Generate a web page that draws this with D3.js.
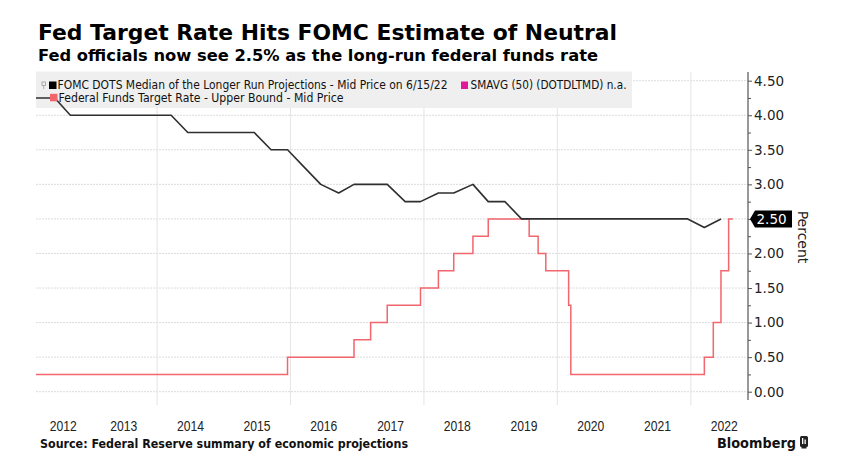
<!DOCTYPE html>
<html>
<head>
<meta charset="utf-8">
<script src="https://cdn.jsdelivr.net/npm/d3@7/dist/d3.min.js"></script>
<style>
  html, body { margin: 0; padding: 0; background: #fff; }
  svg { display: block; }
</style>
</head>
<body>
<svg id="chart" width="841" height="467"></svg>
<script>
// ---------------- DATA ----------------
const dotsDates = ["2012-01-25","2012-04-25","2012-06-20","2012-09-13","2012-12-12",
  "2013-03-20","2013-06-19","2013-09-18","2013-12-18",
  "2014-03-19","2014-06-18","2014-09-17","2014-12-17",
  "2015-03-18","2015-06-17","2015-09-17","2015-12-16",
  "2016-03-16","2016-06-15","2016-09-21","2016-12-14",
  "2017-03-15","2017-06-14","2017-09-20","2017-12-13",
  "2018-03-21","2018-06-13","2018-09-26","2018-12-19",
  "2019-03-20","2019-06-19","2019-09-18","2019-12-11",
  "2020-06-10","2020-09-16","2020-12-16",
  "2021-03-17","2021-06-16","2021-09-22","2021-12-15",
  "2022-03-16","2022-06-15"];
const dotsValues = [4.25,4.25,4.25,4.00,4.00,
  4.00,4.00,4.00,4.00,
  4.00,3.75,3.75,3.75,
  3.75,3.75,3.50,3.50,
  3.25,3.00,2.875,3.00,
  3.00,3.00,2.75,2.75,
  2.875,2.875,3.00,2.75,
  2.75,2.50,2.50,2.50,
  2.50,2.50,2.50,
  2.50,2.50,2.50,2.50,
  2.375,2.50];

const fedDates = ["2012-01-01","2015-12-16","2016-12-14","2017-03-15","2017-06-14","2017-12-13",
  "2018-03-21","2018-06-13","2018-09-26","2018-12-19",
  "2019-07-31","2019-09-18","2019-10-30","2020-03-03","2020-03-15",
  "2022-03-16","2022-05-04","2022-06-15","2022-07-27","2022-08-19"];
const fedValues = [0.25,0.50,0.75,1.00,1.25,1.50,
  1.75,2.00,2.25,2.50,
  2.25,2.00,1.75,1.25,0.25,
  0.50,1.00,1.75,2.50,2.50];

const yTicks = [0,0.5,1,1.5,2,2.5,3,3.5,4,4.5];
const yearLabels = [2012,2013,2014,2015,2016,2017,2018,2019,2020,2021,2022];
const gridYears = [2014,2016,2018,2020,2022];
const lastValue = 2.50;

const titleText = "Fed Target Rate Hits FOMC Estimate of Neutral";
const subtitleText = "Fed officials now see 2.5% as the long-run federal funds rate";
const legend1 = "FOMC DOTS Median of the Longer Run Projections - Mid Price on 6/15/22";
const legend2 = "SMAVG (50) (DOTDLTMD) n.a.";
const legend3 = "Federal Funds Target Rate - Upper Bound - Mid Price";
const sourceText = "Source: Federal Reserve summary of economic projections";
const unitText = "Percent";
const brandText = "Bloomberg";

// ---------------- SETUP ----------------
const parse = d3.timeParse("%Y-%m-%d");
const dots = dotsDates.map((d, i) => ({ date: parse(d), value: dotsValues[i] }));
const fed = fedDates.map((d, i) => ({ date: parse(d), value: fedValues[i] }));

const svg = d3.select("#chart");
const plotLeft = 36, plotRight = 748, plotTop = 72, plotBottom = 405;

const x = d3.scaleTime()
  .domain([new Date(2012, 2, 9), new Date(2022, 10, 10)])
  .range([plotLeft, plotRight]);
const y = d3.scaleLinear().domain([0, 4.5]).range([391.7, 80.7]);

function fit(sel, w) {
  const n = sel.node();
  const len = n.getComputedTextLength();
  if (Math.abs(len - w) > 0.5) {
    sel.attr("textLength", w).attr("lengthAdjust", "spacingAndGlyphs");
  }
  return sel;
}

const sans = "'DejaVu Sans', Verdana, sans-serif";

// ---------------- TITLES ----------------
svg.append("text").attr("x", 38).attr("y", 40)
  .attr("font-family", sans).attr("font-weight", "bold").attr("font-size", 21)
  .attr("fill", "#000").text(titleText).call(s => fit(s, 579));
svg.append("text").attr("x", 38).attr("y", 61)
  .attr("font-family", sans).attr("font-weight", "bold").attr("font-size", 15.5)
  .attr("fill", "#000").text(subtitleText).call(s => fit(s, 560));

// ---------------- GRID ----------------
const grid = svg.append("g");
grid.selectAll("line.h").data(yTicks).join("line")
  .attr("x1", plotLeft).attr("x2", plotRight)
  .attr("y1", d => y(d)).attr("y2", d => y(d))
  .attr("stroke", "#dcdcdc").attr("stroke-width", 1).attr("stroke-dasharray", "2,1");
grid.selectAll("line.v").data(gridYears).join("line")
  .attr("x1", d => x(new Date(d, 0, 1))).attr("x2", d => x(new Date(d, 0, 1)))
  .attr("y1", plotTop).attr("y2", plotBottom)
  .attr("stroke", "#e4e4e4").attr("stroke-width", 1);

// ---------------- LEGEND BACKGROUND ----------------
svg.append("rect").attr("x", 36).attr("y", 71.5).attr("width", 596).attr("height", 36.5)
  .attr("fill", "#eeeeee").attr("opacity", 0.92);

// ---------------- LINES ----------------
svg.append("clipPath").attr("id", "clip").append("rect")
  .attr("x", plotLeft).attr("y", plotTop - 10).attr("width", plotRight - plotLeft).attr("height", plotBottom - plotTop + 10);

const lines = svg.append("g").attr("clip-path", "url(#clip)");
lines.append("path").datum(fed)
  .attr("fill", "none").attr("stroke", "#f2666d").attr("stroke-width", 1.5)
  .attr("d", d3.line().x(d => x(d.date)).y(d => y(d.value)).curve(d3.curveStepAfter));
lines.append("path").datum(dots)
  .attr("fill", "none").attr("stroke", "#2f2f2f").attr("stroke-width", 1.6)
  .attr("stroke-linejoin", "round")
  .attr("d", d3.line().x(d => x(d.date)).y(d => y(d.value)));

// ---------------- LEGEND ITEMS ----------------
const lg = svg.append("g").attr("font-family", sans).attr("font-size", 11.5).attr("fill", "#111");
lg.append("rect").attr("x", 42).attr("y", 82).attr("width", 3.5).attr("height", 3.5)
  .attr("fill", "none").attr("stroke", "#999").attr("stroke-width", 0.8);
lg.append("line").attr("x1", 43.7).attr("x2", 43.7).attr("y1", 85.5).attr("y2", 89)
  .attr("stroke", "#999").attr("stroke-width", 0.8);
lg.append("rect").attr("x", 49).attr("y", 81.5).attr("width", 7.5).attr("height", 7.5).attr("fill", "#000");
lg.append("text").attr("x", 57.5).attr("y", 89.3).text(legend1).call(s => fit(s, 390));
lg.append("rect").attr("x", 461).attr("y", 81.5).attr("width", 7).attr("height", 7.5).attr("fill", "#e2189b");
lg.append("text").attr("x", 470.5).attr("y", 89.3).text(legend2).call(s => fit(s, 156));
lg.append("rect").attr("x", 50).attr("y", 93.8).attr("width", 7.5).attr("height", 7.5).attr("fill", "#f2646c");
lg.append("text").attr("x", 58.5).attr("y", 101.7).text(legend3).call(s => fit(s, 285));

// ---------------- Y AXIS (RIGHT) ----------------
const axisG = svg.append("g").attr("transform", `translate(${plotRight},0)`);
axisG.append("line").attr("x1", 0).attr("x2", 0).attr("y1", plotTop).attr("y2", 400)
  .attr("stroke", "#555").attr("stroke-width", 1.2);
const minorTicks = yTicks.slice(0, -1).map(d => d + 0.25);
axisG.append("g").call(d3.axisRight(y).tickValues(minorTicks).tickFormat("").tickSize(3))
  .call(g => g.select(".domain").remove())
  .call(g => g.selectAll("line").attr("stroke", "#555"));
axisG.append("g").call(d3.axisRight(y).tickValues(yTicks)
    .tickFormat(d => d === lastValue ? "" : d3.format(".2f")(d)).tickSize(4).tickPadding(2))
  .call(g => g.select(".domain").remove())
  .call(g => g.selectAll("line").attr("stroke", "#555"))
  .call(g => g.selectAll("text").attr("font-family", sans).attr("font-size", 13.5).attr("fill", "#222"));

// last value tag (covers the 2.50 tick label, as in the reference)
const ty = y(lastValue);
svg.append("path")
  .attr("d", `M${plotRight + 2},${ty} L${plotRight + 7},${ty - 8.5} L${plotRight + 44},${ty - 8.5} L${plotRight + 44},${ty + 8.5} L${plotRight + 7},${ty + 8.5} Z`)
  .attr("fill", "#000");
svg.append("text").attr("x", plotRight + 8.5).attr("y", ty + 5)
  .attr("font-family", sans).attr("font-size", 13.5).attr("fill", "#fff")
  .text(d3.format(".2f")(lastValue));

// unit label
svg.append("text").attr("transform", `translate(798,237) rotate(90)`)
  .attr("text-anchor", "middle").attr("font-family", sans).attr("font-size", 14).attr("fill", "#222")
  .text(unitText);

// ---------------- X LABELS ----------------
const [d0] = x.domain();
svg.append("g").selectAll("text").data(yearLabels).join("text")
  .attr("x", d => {
    const a = Math.max(+new Date(d, 0, 1), +d0);
    const b = +new Date(d + 1, 0, 1);
    return x(new Date((a + b) / 2));
  })
  .attr("y", 431)
  .attr("text-anchor", "middle")
  .attr("font-family", "'Liberation Sans', Arial, sans-serif").attr("font-size", 14).attr("fill", "#222")
  .text(d => d)
  .each(function() { fit(d3.select(this), 27); });

// ---------------- FOOTER ----------------
svg.append("text").attr("x", 40).attr("y", 448)
  .attr("font-family", sans).attr("font-weight", "bold").attr("font-size", 12).attr("fill", "#111")
  .text(sourceText).call(s => fit(s, 368));
svg.append("text").attr("x", 717).attr("y", 448)
  .attr("font-family", sans).attr("font-weight", "bold").attr("font-size", 13.5).attr("fill", "#111")
  .text(brandText).call(s => fit(s, 79));
const lgx = 800, lgy = 436;
svg.append("rect").attr("x", lgx).attr("y", lgy).attr("width", 8).attr("height", 11).attr("rx", 1.5).attr("fill", "#222");
svg.append("rect").attr("x", lgx + 2).attr("y", lgy + 2).attr("width", 1.3).attr("height", 6).attr("fill", "#fff");
svg.append("rect").attr("x", lgx + 4.5).attr("y", lgy + 3.5).attr("width", 1.3).attr("height", 4.5).attr("fill", "#fff");
svg.append("rect").attr("x", lgx + 1.5).attr("y", lgy + 11).attr("width", 5).attr("height", 1.5).attr("fill", "#222");
</script>
</body>
</html>
